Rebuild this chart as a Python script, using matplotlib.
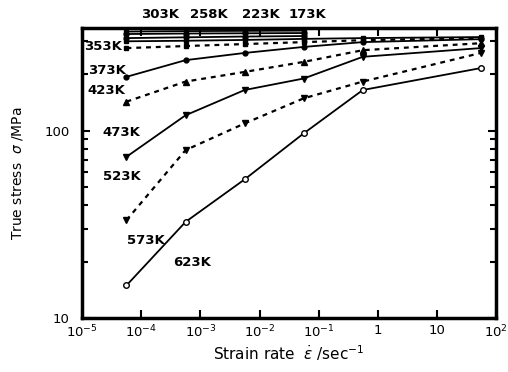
import numpy as np
import matplotlib
matplotlib.use("Agg")
import matplotlib.pyplot as plt

plt.rcParams['font.family'] = ['DejaVu Sans']
plt.rcParams['mathtext.fontset'] = 'dejavusans'

# strain rates (1/s)
rates = [5.6e-5, 5.6e-4, 5.6e-3, 5.6e-2, 5.6e-1, 56]

# true stress (MPa) per temperature
s173 = [338, 340, 341, 342]
s223 = [328, 330, 331, 332]
s258 = [312, 315, 318, 320]
s303 = [300, 302, 305, 309, 312, 316]
s353 = [276, 283, 290, 297, 304, 312]
s373 = [194, 238, 260, 280, 297, 308]
s423 = [143, 183, 206, 233, 269, 293]
s473 = [72.7, 121, 165, 190, 248, 276]
s523 = [33.4, 78.9, 109.5, 149, 183, 260]
s623 = [15.0, 32.7, 55.1, 96.9, 165, 216]

xtick_vals = [1e-5, 1e-4, 1e-3, 1e-2, 1e-1, 1, 10, 100]
xtick_labels = ['$10^{-5}$', '$10^{-4}$', '$10^{-3}$', '$10^{-2}$',
                '$10^{-1}$', '1', '10', '$10^{2}$']
ytick_vals = [10, 100]
ytick_labels = ['10', '100']

fig = plt.figure(figsize=(5.08, 3.72), dpi=100)
ax = fig.add_axes([0.162, 0.144, 0.814, 0.780])
ax.set_xscale('log')
ax.set_yscale('log')

k = 'black'
solid = dict(color=k, lw=1.3, ls='-')
dot = dict(color=k, lw=1.6, ls=(0, (2.2, 2.2)))

ax.plot(rates[:4], s173, marker='s', ms=3.5, **solid)
ax.plot(rates[:4], s223, marker='o', ms=3.5, **solid)
ax.plot(rates[:4], s258, marker='o', ms=3.5, **solid)
ax.plot(rates, s303, marker='s', ms=3.5, **solid)
ax.plot(rates, s353, marker='s', ms=3, **dot)
ax.plot(rates, s373, marker='o', ms=3.5, **solid)
ax.plot(rates, s423, marker='^', ms=4, **dot)
ax.plot(rates, s473, marker='v', ms=4, **solid)
ax.plot(rates, s523, marker='v', ms=4, **dot)
ax.plot(rates, s623, marker='o', ms=4, mfc='white', mew=1.0, **solid)

ax.set_xlim(1e-5, 100)
ax.set_ylim(10, 352)
ax.set_xticks(xtick_vals)
ax.set_xticklabels(xtick_labels, fontsize=9.5)
ax.set_yticks(ytick_vals)
ax.set_yticklabels(ytick_labels, fontsize=9.5)
ax.xaxis.set_minor_locator(matplotlib.ticker.NullLocator())
ax.yaxis.set_minor_locator(matplotlib.ticker.LogLocator(base=10, subs=np.arange(2, 10)))
ax.yaxis.set_minor_formatter(matplotlib.ticker.NullFormatter())
ax.tick_params(which='both', direction='in', top=True, right=True, width=1.5)
ax.tick_params(which='major', length=6)
ax.tick_params(which='minor', length=4)
ax.tick_params(axis='y', which='major', pad=9)
ax.tick_params(axis='x', which='major', pad=4)
for sp in ax.spines.values():
    sp.set_linewidth(2.5)

ax.set_xlabel(r'Strain rate  $\dot{\varepsilon}$ /sec$^{-1}$', fontsize=11, labelpad=2)
ax.set_ylabel(r'True stress  $\sigma$ /MPa', fontsize=10, labelpad=14)

# temperature labels (figure pixel positions converted to figure fraction)
W, H = 508, 372
labels = [("303K", 160, 15), ("258K", 209, 15), ("223K", 261, 15), ("173K", 307, 15),
          ("353K", 103, 46), ("373K", 107, 70), ("423K", 106, 90),
          ("473K", 121, 132), ("523K", 122, 177), ("573K", 146, 240), ("623K", 192, 263)]
for t, px, py in labels:
    fig.text(px / W, 1 - py / H, t, ha='center', va='center',
             fontsize=9.5, fontweight='bold')

fig.savefig('out.png', dpi=100)
